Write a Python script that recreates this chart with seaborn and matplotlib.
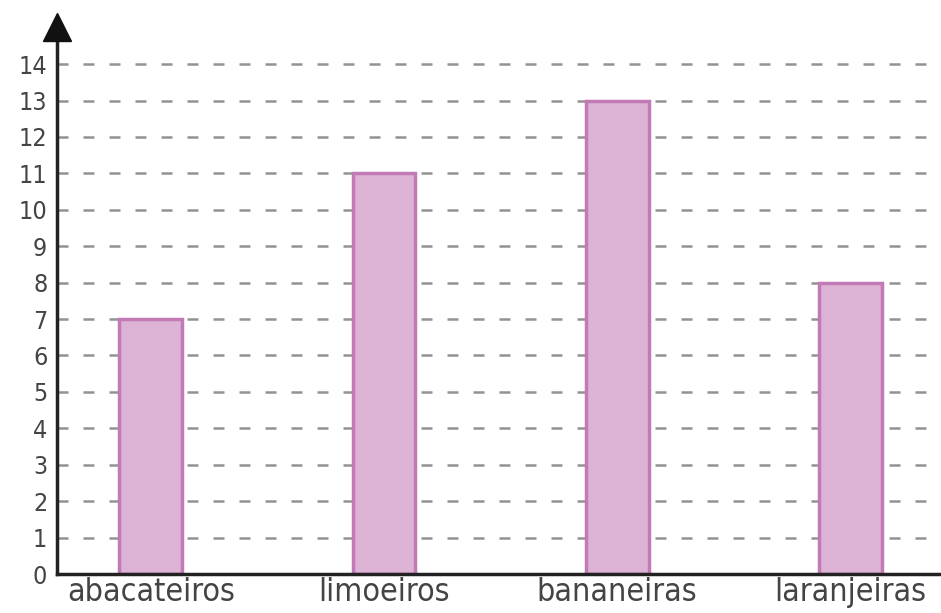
import matplotlib
matplotlib.use("Agg")
import matplotlib.pyplot as plt
import seaborn as sns
import pandas as pd

# Data
arvores = ["abacateiros", "limoeiros", "bananeiras", "laranjeiras"]
quantidade = [7, 11, 13, 8]
y_ticks = list(range(0, 15))

df = pd.DataFrame({"arvore": arvores, "quantidade": quantidade})

sns.set_style("white")
plt.rcParams['font.family'] = ['DejaVu Sans']
plt.rcParams['font.stretch'] = 'condensed'

fig = plt.figure(figsize=(9.41, 6.13), dpi=100)
ax = fig.add_axes([0.0606, 0.0636, 0.9394, 0.915])

# dashed guide lines behind the bars
for v in y_ticks[1:]:
    ax.axhline(v, color="#939393", lw=1.8, ls=(0, (4.4, 6)), zorder=0)

sns.barplot(data=df, x="arvore", y="quantidade", ax=ax, width=0.27,
            color="#dcb3d5", edgecolor="#c27ab6", linewidth=2.5,
            saturation=1, zorder=2)

ax.set_xlim(-0.403, 3.39)
ax.set_ylim(0, 15.4)
ax.set_yticks(y_ticks)
ax.set_yticklabels([str(t) for t in y_ticks])
ax.set_xlabel("")
ax.set_ylabel("")
ax.tick_params(axis="y", length=0, pad=7, labelsize=18, labelcolor="#444444")
ax.tick_params(axis="x", length=0, pad=2, labelsize=23, labelcolor="#444444")

for s in ["top", "right"]:
    ax.spines[s].set_visible(False)
for s in ["left", "bottom"]:
    ax.spines[s].set_color("#222222")
    ax.spines[s].set_linewidth(2.5)
ax.spines["left"].set_bounds(0, 15.0)

# arrow head on the vertical axis
ax.plot([0], [0.975], marker="^", color="#111111", markersize=20,
        transform=ax.transAxes, clip_on=False, zorder=5)

fig.savefig("out.png", dpi=100)
